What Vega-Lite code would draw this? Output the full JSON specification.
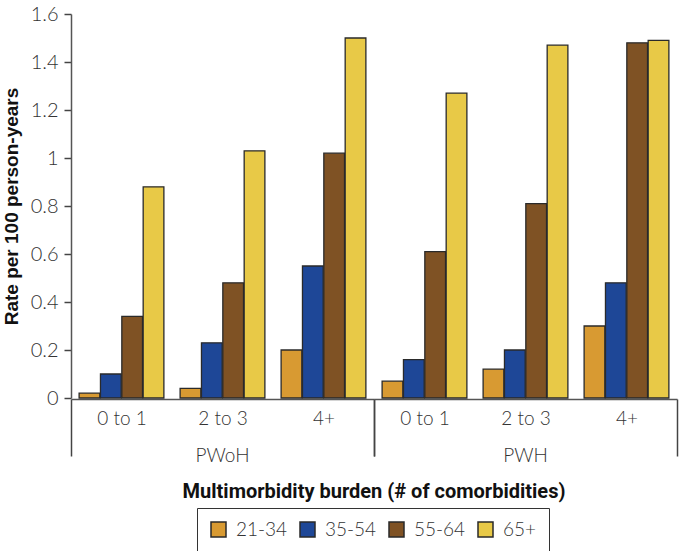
{
  "$schema": "https://vega.github.io/schema/vega-lite/v6.json",
  "padding": {"left": 2, "top": 4, "right": 1, "bottom": 1},
  "background": "white",
  "data": {
    "values": [
      {"status": "PWoH", "burden": "0 to 1", "age": "21-34", "rate": 0.02},
      {"status": "PWoH", "burden": "0 to 1", "age": "35-54", "rate": 0.10},
      {"status": "PWoH", "burden": "0 to 1", "age": "55-64", "rate": 0.34},
      {"status": "PWoH", "burden": "0 to 1", "age": "65+", "rate": 0.88},
      {"status": "PWoH", "burden": "2 to 3", "age": "21-34", "rate": 0.04},
      {"status": "PWoH", "burden": "2 to 3", "age": "35-54", "rate": 0.23},
      {"status": "PWoH", "burden": "2 to 3", "age": "55-64", "rate": 0.48},
      {"status": "PWoH", "burden": "2 to 3", "age": "65+", "rate": 1.03},
      {"status": "PWoH", "burden": "4+", "age": "21-34", "rate": 0.20},
      {"status": "PWoH", "burden": "4+", "age": "35-54", "rate": 0.55},
      {"status": "PWoH", "burden": "4+", "age": "55-64", "rate": 1.02},
      {"status": "PWoH", "burden": "4+", "age": "65+", "rate": 1.50},
      {"status": "PWH", "burden": "0 to 1", "age": "21-34", "rate": 0.07},
      {"status": "PWH", "burden": "0 to 1", "age": "35-54", "rate": 0.16},
      {"status": "PWH", "burden": "0 to 1", "age": "55-64", "rate": 0.61},
      {"status": "PWH", "burden": "0 to 1", "age": "65+", "rate": 1.27},
      {"status": "PWH", "burden": "2 to 3", "age": "21-34", "rate": 0.12},
      {"status": "PWH", "burden": "2 to 3", "age": "35-54", "rate": 0.20},
      {"status": "PWH", "burden": "2 to 3", "age": "55-64", "rate": 0.81},
      {"status": "PWH", "burden": "2 to 3", "age": "65+", "rate": 1.47},
      {"status": "PWH", "burden": "4+", "age": "21-34", "rate": 0.30},
      {"status": "PWH", "burden": "4+", "age": "35-54", "rate": 0.48},
      {"status": "PWH", "burden": "4+", "age": "55-64", "rate": 1.48},
      {"status": "PWH", "burden": "4+", "age": "65+", "rate": 1.49}
    ]
  },
  "width": 303,
  "height": 384,
  "spacing": 0,
  "mark": {"type": "bar", "stroke": "#2a2a2a", "strokeWidth": 1.3},
  "encoding": {
    "column": {
      "field": "status",
      "type": "nominal",
      "sort": ["PWoH", "PWH"],
      "spacing": 0,
      "header": {
        "labelOrient": "bottom",
        "titleOrient": "bottom",
        "title": "Multimorbidity burden (# of comorbidities)",
        "labelFont": "Lato",
        "labelFontWeight": 300,
        "labelFontSize": 19,
        "labelColor": "#333",
        "labelPadding": -10,
        "titleFont": "Roboto",
        "titleFontWeight": "bold",
        "titleFontSize": 20,
        "titleColor": "#111",
        "titlePadding": 6
      }
    },
    "x": {
      "field": "burden",
      "type": "nominal",
      "sort": ["0 to 1", "2 to 3", "4+"],
      "scale": {"paddingInner": 0, "paddingOuter": 0},
      "axis": {
        "title": null,
        "labelAngle": 0,
        "labelFont": "Lato",
        "labelFontWeight": 300,
        "labelFontSize": 19,
        "labelColor": "#333",
        "tickBand": "extent",
        "tickSize": 57,
        "tickWidth": 1.5,
        "tickColor": {"condition": {"test": "datum.index < 0 || datum.index == 1", "value": "#444"}, "value": "transparent"},
        "labelPadding": -47,
        "domainColor": "#555",
        "domainWidth": 1.5
      }
    },
    "xOffset": {
      "field": "age",
      "type": "nominal",
      "sort": ["21-34", "35-54", "55-64", "65+"],
      "scale": {"paddingInner": 0.03, "paddingOuter": 0.38}
    },
    "y": {
      "field": "rate",
      "type": "quantitative",
      "scale": {"domain": [0, 1.6], "nice": false},
      "axis": {
        "title": "Rate per 100 person-years",
        "titleFont": "Liberation Sans",
        "titleFontWeight": "bold",
        "titleFontSize": 19,
        "titleColor": "#111",
        "titlePadding": 9,
        "values": [0, 0.2, 0.4, 0.6, 0.8, 1, 1.2, 1.4, 1.6],
        "format": ".1~f",
        "grid": false,
        "labelFont": "Lato",
        "labelFontWeight": 300,
        "labelFontSize": 20,
        "labelColor": "#333",
        "labelPadding": 6,
        "tickSize": 7,
        "tickWidth": 1.5,
        "tickColor": "#444",
        "domainColor": "#555",
        "domainWidth": 1.5
      }
    },
    "color": {
      "field": "age",
      "type": "nominal",
      "sort": ["21-34", "35-54", "55-64", "65+"],
      "scale": {"domain": ["21-34", "35-54", "55-64", "65+"], "range": ["#D89A32", "#1E4797", "#7F5224", "#E8C947"]},
      "legend": {
        "orient": "none",
        "legendX": 126,
        "legendY": 494,
        "direction": "horizontal",
        "title": null,
        "strokeColor": "#333",
        "padding": 12,
        "symbolType": "square",
        "symbolSize": 225,
        "symbolStrokeColor": "#2a2a2a",
        "symbolStrokeWidth": 1.5,
        "labelFont": "Lato",
        "labelFontWeight": 300,
        "labelFontSize": 19,
        "labelColor": "#333",
        "labelOffset": 8,
        "columnPadding": 9
      }
    }
  },
  "config": {
    "view": {"stroke": null}
  }
}
